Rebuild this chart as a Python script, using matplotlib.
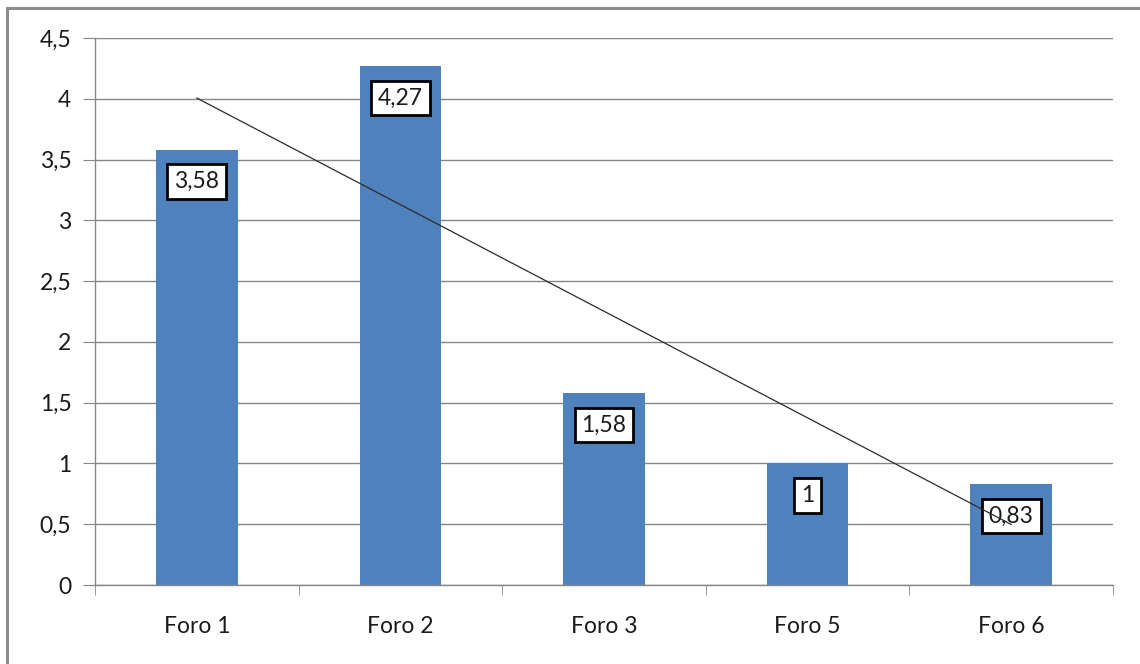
import numpy as np
import matplotlib
matplotlib.use("Agg")
from matplotlib import pyplot as plt
from matplotlib.patches import Rectangle

# data
foros = ["Foro 1", "Foro 2", "Foro 3", "Foro 5", "Foro 6"]
valores = [3.58, 4.27, 1.58, 1, 0.83]
etiquetas = ["3,58", "4,27", "1,58", "1", "0,83"]
y_ticks = [0, 0.5, 1, 1.5, 2, 2.5, 3, 3.5, 4, 4.5]
y_labels = ["0", "0,5", "1", "1,5", "2", "2,5", "3", "3,5", "4", "4,5"]

plt.rcParams['font.family'] = ['Lato', 'DejaVu Sans']
W, H = 1140, 664
fig = plt.figure(figsize=(W / 100, H / 100), dpi=100)
ax = fig.add_axes([95 / W, 1 - 585 / H, (1113 - 95) / W, (585 - 38) / H])

grid_col = "#868686"
txt_col = "#1a1a1a"
fs = 16.5
x = np.arange(len(foros))
ax.bar(x, valores, width=0.4, color="#4F81BD", zorder=2)

# linear trend line
coef = np.polyfit(x, valores, 1)
ax.plot(x, np.polyval(coef, x), color="#2b2b2b", lw=0.9, zorder=4)

for xi, v, lab in zip(x, valores, etiquetas):
    ax.annotate(lab, (xi, v), xytext=(0, -32), textcoords="offset pixels",
                ha="center", va="center", fontsize=fs, color=txt_col, zorder=3,
                bbox=dict(boxstyle="square,pad=0.3", fc="white", ec="black", lw=2))

ax.set_xlim(-0.5, len(foros) - 0.5)
ax.set_ylim(0, 4.5)
ax.set_yticks(y_ticks)
ax.set_yticklabels(y_labels)
ax.set_xticks(x)
ax.set_xticklabels(foros)
ax.set_xticks(np.arange(-0.5, len(foros)), minor=True)
ax.tick_params(axis="x", which="major", length=0, pad=22, labelsize=fs, labelcolor=txt_col)
ax.tick_params(axis="x", which="minor", length=7, color=grid_col, direction="out")
ax.tick_params(axis="y", length=9, color=grid_col, pad=8, labelsize=fs, labelcolor=txt_col)
ax.yaxis.grid(True, color=grid_col, lw=1)
ax.set_axisbelow(True)
for s in ["top", "right"]:
    ax.spines[s].set_visible(False)
for s in ["left", "bottom"]:
    ax.spines[s].set_color(grid_col)
    ax.spines[s].set_linewidth(1)

# outer chart frame
fig.patches.append(Rectangle((7 / W, -0.05), 1.1, 1 - 8 / H + 0.05,
                             transform=fig.transFigure, fill=False,
                             ec="#8c8c8c", lw=2.2))

fig.savefig("out.png", dpi=100)
